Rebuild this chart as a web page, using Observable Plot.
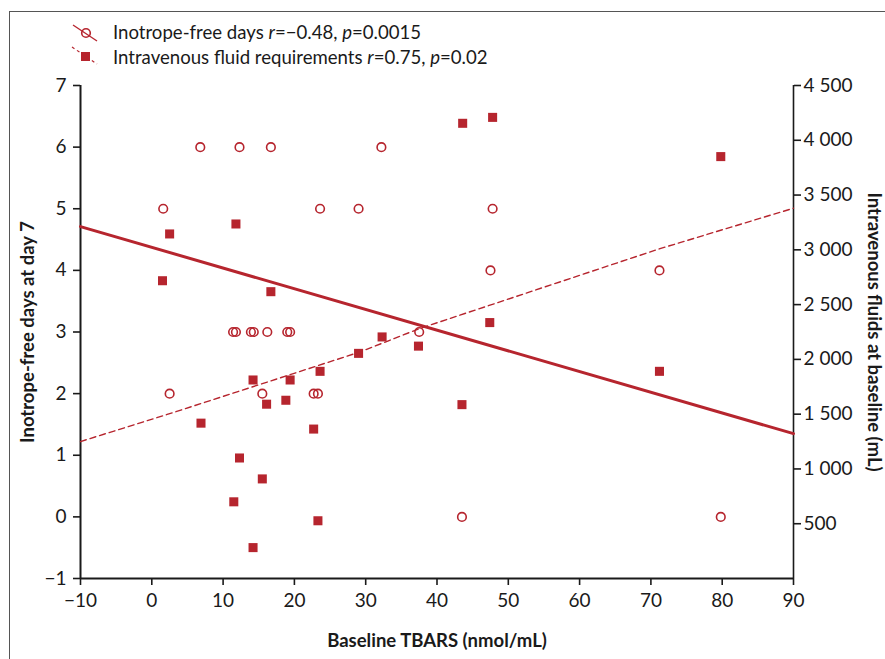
<!DOCTYPE html>
<html>
<head>
<meta charset="utf-8">
<script src="https://cdn.jsdelivr.net/npm/d3@7"></script>
<script src="https://cdn.jsdelivr.net/npm/@observablehq/plot@0.6"></script>
<style>
  html, body { margin: 0; padding: 0; background: #fff; overflow: hidden; }
  body { width: 885px; height: 659px; position: relative; font-family: Lato, "Open Sans", sans-serif; color: #1a1a1a; }
  #frame { position: absolute; left: 9px; top: 11px; width: 900px; height: 700px; border: 1.5px solid #555; box-sizing: border-box; }
  #legend { position: relative; height: 72px; }
  .leg { position: absolute; left: 113px; font-size: 18.6px; line-height: 25px; white-space: nowrap; }
  #legsym { position: absolute; left: 0; top: 0; }
  #chart { position: relative; }
</style>
</head>
<body>
<div id="frame"></div>
<div id="legend">
  <svg id="legsym" width="120" height="72"></svg>
  <div class="leg" style="top:20px">Inotrope-free days <i>r</i>=−0.48, <i>p</i>=0.0015</div>
  <div class="leg" style="top:45px">Intravenous fluid requirements <i>r</i>=0.75, <i>p</i>=0.02</div>
</div>
<div id="chart"></div>
<script>
// ---- data ----
const xTicks = [-10, 0, 10, 20, 30, 40, 50, 60, 70, 80, 90];
const yTicks = [-1, 0, 1, 2, 3, 4, 5, 6, 7];
const fluidTicks = [500, 1000, 1500, 2000, 2500, 3000, 3500, 4000, 4500];

// Inotrope-free days (open circles)
const tbarsInotrope = [1.6, 6.8, 12.3, 16.7, 32.2, 23.6, 29.0, 47.8, 47.5, 71.2,
  11.4, 11.8, 13.9, 14.3, 16.2, 19.0, 19.4, 37.5, 2.5, 15.5, 22.7, 23.3, 43.5, 79.8];
const inotropeDays = [5, 6, 6, 6, 6, 5, 5, 5, 4, 4,
  3, 3, 3, 3, 3, 3, 3, 3, 2, 2, 2, 2, 0, 0];

// Intravenous fluids at baseline, mL (filled squares)
const tbarsFluid = [1.5, 2.5, 6.9, 11.5, 11.8, 12.3, 14.2, 14.2, 15.5, 16.1, 16.7, 18.8, 19.4,
  22.7, 23.3, 23.6, 29.0, 32.3, 37.4, 43.5, 43.6, 47.4, 47.8, 71.2, 79.8];
const fluidML = [2718, 3145, 1418, 700, 3236, 1100, 282, 1812, 909, 1591, 2618, 1627, 1812,
  1364, 527, 1891, 2055, 2205, 2121, 1587, 4155, 2336, 4209, 1891, 3851];

// Fitted lines
const inotropeFitX = [-10, 90];
const inotropeFitY = [4.71, 1.35];
const fluidFitX = [-10, 3.5, 29.3, 37.5, 71, 90];
const fluidFitML = [1250, 1525, 2070, 2280, 3005, 3380];

// ---- build ----
const red = "#b6252e";
const ink = "#1a1a1a";
const fluidMax = 4500;
const toL = v => -1 + v * 8 / fluidMax;       // fluid mL -> left-axis units
const fromL = y => (y + 1) * fluidMax / 8;
const fmtSp = d3.formatLocale({decimal: ".", thousands: " ", grouping: [3], currency: ["", ""], minus: "−"}).format(",d");

const inotrope = tbarsInotrope.map((x, i) => ({x, y: inotropeDays[i]}));
const fluid = tbarsFluid.map((x, i) => ({x, y: toL(fluidML[i])}));
const inoFit = inotropeFitX.map((x, i) => ({x, y: inotropeFitY[i]}));
const fluFit = fluidFitX.map((x, i) => ({x, y: toL(fluidFitML[i])}));

const tickFont = 19;
const titleFont = 18.5;

const chart = Plot.plot({
  width: 885,
  height: 587,
  marginTop: 13,
  marginBottom: 81,
  marginLeft: 80,
  marginRight: 92,
  x: {domain: [-10, 90]},
  y: {domain: [-1, 7]},
  style: {fontFamily: "Lato, 'Open Sans', sans-serif", fontSize: tickFont + "px", color: ink, overflow: "visible", background: "transparent"},
  marks: [
    Plot.axisX({ticks: xTicks, tickSize: 7, tickPadding: 8, label: null, strokeWidth: 1.6, fontSize: tickFont}),
    Plot.axisY({anchor: "left", ticks: yTicks, tickSize: 7, tickPadding: 7, label: null, strokeWidth: 1.6, fontSize: tickFont}),
    Plot.axisY({anchor: "right", ticks: fluidTicks.map(toL), tickFormat: d => fmtSp(Math.round(fromL(d))),
      tickSize: 7, tickPadding: 3, label: null, strokeWidth: 1.6, fontSize: tickFont}),
    Plot.ruleX([-10], {y1: -1, y2: 7, stroke: ink, strokeWidth: 2}),
    Plot.ruleX([90], {y1: -1, y2: 7, stroke: ink, strokeWidth: 1.6}),
    Plot.ruleY([-1], {x1: -10, x2: 90, stroke: ink, strokeWidth: 2}),
    Plot.line(fluFit, {x: "x", y: "y", stroke: red, strokeWidth: 1.4, strokeDasharray: "6,4"}),
    Plot.line(inoFit, {x: "x", y: "y", stroke: red, strokeWidth: 3}),
    Plot.dot(fluid, {x: "x", y: "y", symbol: "square", r: 5.1, fill: red, stroke: "none"}),
    Plot.dot(inotrope, {x: "x", y: "y", r: 4.3, fill: "white", fillOpacity: 0, stroke: red, strokeWidth: 1.6}),
    Plot.text(["Inotrope-free days at day 7"], {frameAnchor: "left", dx: -52, rotate: -90, textAnchor: "middle",
      text: d => d, fontWeight: "bold", fontSize: titleFont, fill: ink}),
    Plot.text(["Intravenous fluids at baseline (mL)"], {frameAnchor: "right", dx: 80, rotate: 90, textAnchor: "middle",
      text: d => d, fontWeight: "bold", fontSize: titleFont, fill: ink}),
    Plot.text(["Baseline TBARS (nmol/mL)"], {frameAnchor: "bottom", dy: 68, textAnchor: "middle",
      text: d => d, fontWeight: "bold", fontSize: titleFont, fill: ink})
  ]
});
document.getElementById("chart").appendChild(chart);

// legend symbols
const ls = d3.select("#legsym");
ls.append("line").attr("x1", 73).attr("y1", 25).attr("x2", 97).attr("y2", 41).attr("stroke", red).attr("stroke-width", 1.4);
ls.append("circle").attr("cx", 86).attr("cy", 33).attr("r", 4.3).attr("fill", "none").attr("stroke", red).attr("stroke-width", 1.6);
ls.append("line").attr("x1", 72).attr("y1", 47).attr("x2", 97).attr("y2", 64).attr("stroke", red).attr("stroke-width", 1.2).attr("stroke-dasharray", "3,3");
ls.append("rect").attr("x", 81).attr("y", 52).attr("width", 9).attr("height", 9).attr("fill", red);
</script>
</body>
</html>
